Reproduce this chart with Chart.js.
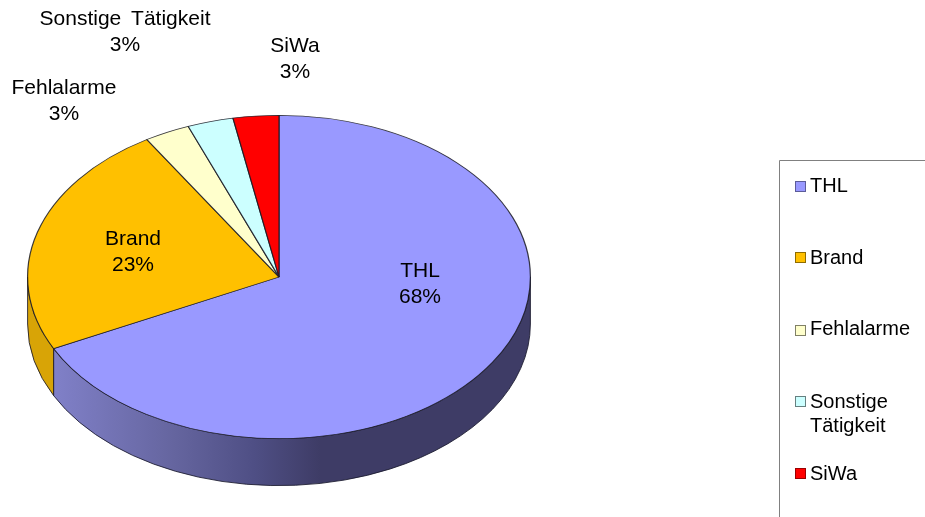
<!DOCTYPE html>
<html>
<head>
<meta charset="utf-8">
<title>Einsätze</title>
<script src="https://cdn.jsdelivr.net/npm/chart.js@4/dist/chart.umd.min.js"></script>
<style>
    html, body { margin: 0; padding: 0; background: #fff; overflow: hidden; }
    canvas { display: block; }
</style>
</head>
<body>
<canvas id="myChart" width="925" height="517"></canvas>
<script>
// values, share of all operations
var categories = ['THL', 'Brand', 'Fehlalarme', 'Sonstige Tätigkeit', 'SiWa'];
var shares = [67.7, 23.49, 2.93, 2.95, 2.93];
var colors = ['#9999FF', '#FFC000', '#FFFFCC', '#CCFFFF', '#FF0000'];
var swatchBorders = ['#5c5c99', '#8f6c00', '#808066', '#668080', '#990000'];

// the pie is squashed to an ellipse and given a side wall
var centerY = 277;
var tilt = 162 / 252;
var wallDepth = 47;

// label anchors: centre x, baseline of the name line
var labelSpots = [[420, 277], [133, 245], [64, 94], [125, 25], [295, 52]];
var legendRows = [
    { top: 181, lines: ['THL'], baseline: 192 },
    { top: 252, lines: ['Brand'], baseline: 264 },
    { top: 325, lines: ['Fehlalarme'], baseline: 335 },
    { top: 396, lines: ['Sonstige', 'Tätigkeit'], baseline: 408 },
    { top: 468, lines: ['SiWa'], baseline: 480 }
];

function wallPath(ctx, arc, from, to) {
    var rx = arc.outerRadius, ry = rx * tilt;
    ctx.beginPath();
    ctx.ellipse(arc.x, centerY, rx, ry, 0, from, to, false);
    ctx.ellipse(arc.x, centerY + wallDepth, rx, ry, 0, to, from, true);
    ctx.closePath();
}

var pie3d = {
    id: 'pie3d',
    beforeDatasetsDraw: function (chart) {
        var ctx = chart.ctx;
        var arcs = chart.getDatasetMeta(0).data;
        var first = arcs[0];
        ctx.save();

        // side wall, only the part of the rim facing the viewer
        var grad = ctx.createLinearGradient(54, 0, 320, 0);
        grad.addColorStop(0, '#8080c8');
        grad.addColorStop(0.45, '#65659f');
        grad.addColorStop(0.75, '#4f4f85');
        grad.addColorStop(1, '#3e3c66');
        ctx.lineWidth = 1;
        ctx.strokeStyle = 'rgba(25,25,45,0.85)';

        wallPath(ctx, first, 0, first.endAngle);
        ctx.fillStyle = grad;
        ctx.fill();
        ctx.stroke();

        var brand = arcs[1];
        wallPath(ctx, brand, brand.startAngle, Math.PI);
        ctx.fillStyle = '#d8a406';
        ctx.fill();
        ctx.stroke();

        // squash what the library draws next
        ctx.translate(first.x, centerY);
        ctx.scale(1, tilt);
        ctx.translate(-first.x, -first.y);
    },
    afterDatasetsDraw: function (chart) {
        var ctx = chart.ctx;
        ctx.restore();
        ctx.save();

        // labels on and around the pie
        var total = shares.reduce(function (a, b) { return a + b; }, 0);
        ctx.fillStyle = '#000';
        ctx.textAlign = 'center';
        ctx.font = '21px "Liberation Sans", Arial, sans-serif';
        ctx.wordSpacing = '4px';
        categories.forEach(function (name, i) {
            var spot = labelSpots[i];
            ctx.fillText(name, spot[0], spot[1]);
            ctx.fillText(Math.round(shares[i] / total * 100) + '%', spot[0], spot[1] + 26);
        });
        ctx.wordSpacing = '0px';

        // legend box runs off the right and bottom edge
        ctx.strokeStyle = '#808080';
        ctx.lineWidth = 1;
        ctx.beginPath();
        ctx.moveTo(779.5, 517);
        ctx.lineTo(779.5, 160.5);
        ctx.lineTo(925, 160.5);
        ctx.stroke();

        ctx.textAlign = 'left';
        ctx.font = '20px "Liberation Sans", Arial, sans-serif';
        legendRows.forEach(function (row, i) {
            ctx.fillStyle = colors[i];
            ctx.fillRect(795.5, row.top + 0.5, 10, 10);
            ctx.strokeStyle = swatchBorders[i];
            ctx.strokeRect(795.5, row.top + 0.5, 10, 10);
            ctx.fillStyle = '#000';
            row.lines.forEach(function (line, k) {
                ctx.fillText(line, 810, row.baseline + k * 24);
            });
        });
        ctx.restore();
    }
};

var ctx = document.getElementById('myChart');
var myChart = new Chart(ctx, {
    type: 'pie',
    data: {
        labels: categories,
        datasets: [{
            data: shares,
            backgroundColor: colors,
            borderColor: 'rgba(25,25,35,0.85)',
            borderWidth: 1.2,
            clip: false
        }]
    },
    options: {
        responsive: false,
        animation: false,
        devicePixelRatio: 1,
        layout: { padding: { left: 27, right: 394, top: 0, bottom: 0 } },
        plugins: {
            legend: { display: false },
            tooltip: { enabled: false }
        }
    },
    plugins: [pie3d]
});
</script>
</body>
</html>
